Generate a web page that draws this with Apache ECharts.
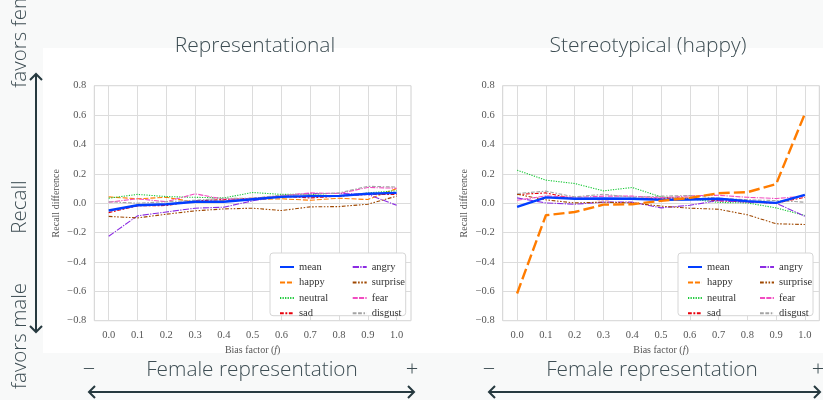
<!DOCTYPE html>
<html><head><meta charset="utf-8">
<script src="https://cdn.jsdelivr.net/npm/echarts@6/dist/echarts.min.js"></script>
<style>html,body{margin:0;padding:0;background:#f8f9f9}#c{width:823px;height:400px}</style>
</head><body><div id="c"></div>
<script>
// ---------- data ----------
const xValues = [0.0, 0.1, 0.2, 0.3, 0.4, 0.5, 0.6, 0.7, 0.8, 0.9, 1.0];
const seriesNames = ['mean', 'happy', 'neutral', 'sad', 'angry', 'surprise', 'fear', 'disgust'];
const panelTitles = ['Representational', 'Stereotypical (happy)'];

// Representational panel
const repMean     = [-0.050, -0.014, -0.007, 0.010, 0.010, 0.027, 0.043, 0.048, 0.050, 0.064, 0.070];
const repHappy    = [0.043, 0.030, 0.040, 0.007, 0.016, 0.025, 0.030, 0.020, 0.034, 0.025, 0.100];
const repNeutral  = [0.034, 0.060, 0.045, 0.040, 0.036, 0.073, 0.060, 0.060, 0.048, 0.070, 0.085];
const repSad      = [-0.064, -0.018, -0.016, 0.016, 0.025, 0.034, 0.048, 0.036, 0.048, 0.060, 0.060];
const repAngry    = [-0.225, -0.086, -0.060, -0.034, -0.027, 0.016, 0.048, 0.066, 0.066, 0.060, -0.014];
const repSurprise = [-0.090, -0.100, -0.075, -0.052, -0.039, -0.034, -0.050, -0.025, -0.023, -0.007, 0.048];
const repFear     = [0.007, 0.030, 0.010, 0.064, 0.027, 0.030, 0.052, 0.070, 0.066, 0.107, 0.102];
const repDisgust  = [0.010, 0.000, 0.010, 0.020, 0.034, 0.034, 0.054, 0.060, 0.070, 0.115, 0.110];

// Stereotypical (happy) panel
const sterMean     = [-0.025, 0.040, 0.030, 0.032, 0.030, 0.023, 0.025, 0.030, 0.014, 0.002, 0.057];
const sterHappy    = [-0.615, -0.082, -0.060, -0.010, -0.007, 0.016, 0.036, 0.068, 0.075, 0.130, 0.610];
const sterNeutral  = [0.225, 0.157, 0.134, 0.084, 0.107, 0.043, 0.030, 0.005, 0.002, -0.032, -0.084];
const sterSad      = [0.059, 0.070, 0.030, 0.023, 0.032, 0.034, 0.036, 0.016, 0.010, 0.000, 0.040];
const sterAngry    = [0.036, 0.002, -0.007, 0.007, 0.007, -0.032, -0.014, 0.018, 0.007, 0.000, -0.089];
const sterSurprise = [0.061, 0.023, 0.002, 0.007, 0.002, -0.020, -0.034, -0.041, -0.079, -0.140, -0.145];
const sterFear     = [0.020, 0.050, 0.040, 0.048, 0.048, 0.036, 0.050, 0.054, 0.040, 0.032, 0.048];
const sterDisgust  = [0.066, 0.082, 0.043, 0.061, 0.040, 0.048, 0.052, 0.034, 0.023, 0.018, 0.007];

const yMin = -0.8, yMax = 0.8, yStep = 0.2;
const xMin = 0.0, xMax = 1.0, xStep = 0.1;

// ---------- styles ----------
const colors = {
  mean: '#023eff', happy: '#ff7c00', neutral: '#1ac938', sad: '#e8000b',
  angry: '#8b2be2', surprise: '#9f4800', fear: '#f14cc1', disgust: '#a3a3a3'
};
const dashUnits = {
  mean: null, happy: [4, 1.5], neutral: [1, 1], sad: [3, 1.25, 1.5, 1.25],
  angry: [5, 1, 1, 1], surprise: [3, 1.25, 1.25, 1.25, 1.25, 1.25],
  fear: [4, 1, 4, 1, 1, 1], disgust: [3, 1.25, 3, 1.25, 1.25, 1.25]
};
const thick = [['mean'], ['mean', 'happy']];
const panelData = [
  [repMean, repHappy, repNeutral, repSad, repAngry, repSurprise, repFear, repDisgust],
  [sterMean, sterHappy, sterNeutral, sterSad, sterAngry, sterSurprise, sterFear, sterDisgust]
];

const TXT = '#3d4d53';
const SERIF = '"Liberation Serif", "DejaVu Serif", serif';
const SANS = '"Open Sans", "Noto Sans", sans-serif';
const GRIDC = '#dcdcdc';

const panels = [
  { boxLeft: 94.3, boxW: 316.7 },
  { boxLeft: 502.7, boxW: 316.6 }
];
const gTop = 85.7, gHeight = 235;

const grid = [], xAxis = [], yAxis = [], series = [], legend = [], graphic = [];
const fmt = v => v.toFixed(1).replace('-', '\u2212');

panels.forEach((p, k) => {
  const unit = p.boxW / 1.1;
  const dataLeft = p.boxLeft + unit * 0.05;
  const dataW = unit;
  grid.push({ left: p.boxLeft, top: gTop, width: p.boxW, height: gHeight, show: true,
    backgroundColor: '#fff', borderColor: '#d0d0d0', borderWidth: 1 });
  grid.push({ left: dataLeft, top: gTop, width: dataW, height: gHeight, show: false });
  const gb = 2 * k, gd = 2 * k + 1;
  xAxis.push({ gridIndex: gb, type: 'value', min: xMin - 0.05, max: xMax + 0.05, show: false });
  yAxis.push({ gridIndex: gb, type: 'value', min: yMin, max: yMax, interval: yStep,
    axisLine: { show: false }, axisTick: { show: false },
    axisLabel: { formatter: fmt, color: '#555', fontFamily: SERIF, fontSize: 10.5, margin: 8 },
    splitLine: { lineStyle: { color: GRIDC, width: 1 } },
    name: 'Recall difference', nameLocation: 'middle', nameGap: 33,
    nameTextStyle: { fontFamily: SERIF, fontSize: 10, color: '#555' } });
  xAxis.push({ gridIndex: gd, type: 'value', min: xMin, max: xMax, interval: xStep,
    axisLine: { show: false }, axisTick: { show: false },
    axisLabel: { formatter: v => v.toFixed(1), color: '#555', fontFamily: SERIF, fontSize: 10.5, margin: 9 },
    splitLine: { lineStyle: { color: GRIDC, width: 1 } },
    name: 'Bias factor ({i|f})', nameLocation: 'middle', nameGap: 20,
    nameTextStyle: { fontFamily: SERIF, fontSize: 10, color: '#555',
      rich: { i: { fontFamily: SERIF, fontSize: 10, fontStyle: 'italic', color: '#555' } } } });
  yAxis.push({ gridIndex: gd, type: 'value', min: yMin, max: yMax, show: false });

  seriesNames.forEach((name, i) => {
    const isThick = thick[k].includes(name);
    const lw = isThick ? 2.4 : 1.1;
    const du = dashUnits[name];
    series.push({
      name: name, type: 'line', xAxisIndex: k * 2 + 1, yAxisIndex: k * 2 + 1,
      data: xValues.map((x, j) => [x, panelData[k][i][j]]),
      showSymbol: false, symbol: 'none', silent: true, animation: false,
      z: isThick ? 5 : 2,
      lineStyle: { color: colors[name], width: lw,
        type: du ? du.map(d => d * lw * 1.15) : 'solid' },
      itemStyle: { color: colors[name] }
    });
  });

  const lb = k === 0 ? { x: 270, w: 135.7 } : { x: 678, w: 135 };
  graphic.push({ type: 'rect', shape: { x: lb.x, y: 253, width: lb.w, height: 62.7, r: 3 },
    style: { fill: '#fff', stroke: '#d6d6d6', lineWidth: 1 }, z: 50 });
  const cols = k === 0 ? [274, 346.7] : [682, 754];
  [seriesNames.slice(0, 4), seriesNames.slice(4)].forEach((names, c) => {
    legend.push({ data: names, orient: 'vertical', left: cols[c], top: 256.5,
      itemWidth: 14, itemHeight: 10, itemGap: 4.45, selectedMode: false, z: 60,
      itemStyle: { opacity: 0 },
      textStyle: { fontFamily: SERIF, fontSize: 10.5, color: '#333', lineHeight: 10 } });
  });
});

graphic.push({ type: 'rect', shape: { x: 43, y: 48, width: 780, height: 305 },
  style: { fill: '#ffffff' }, z: -10, silent: true });
const titleCenters = [255, 648];
panelTitles.forEach((t, k) => {
  graphic.push({ type: 'text', x: titleCenters[k], y: 46, z: 10,
    style: { text: t, fill: TXT, font: '300 21px ' + SANS, align: 'center', verticalAlign: 'middle' } });
});
const sideTexts = [['favors female', 26], ['Recall', 207], ['favors male', 336]];
sideTexts.forEach(([t, y]) => {
  graphic.push({ type: 'text', x: 20, y: y, rotation: Math.PI / 2, z: 10,
    style: { text: t, fill: TXT, font: '300 20.5px ' + SANS, align: 'center', verticalAlign: 'middle' } });
});
const ARC = '#26393f';
graphic.push({ type: 'line', shape: { x1: 36, y1: 74, x2: 36, y2: 332 }, style: { stroke: ARC, lineWidth: 2 }, z: 10 });
graphic.push({ type: 'polyline', shape: { points: [[30, 80], [36, 74], [42, 80]] }, style: { stroke: ARC, lineWidth: 2, fill: null }, z: 10 });
graphic.push({ type: 'polyline', shape: { points: [[30, 326], [36, 332], [42, 326]] }, style: { stroke: ARC, lineWidth: 2, fill: null }, z: 10 });
const bottoms = [{ a: 89, b: 414, c: 252 }, { a: 489, b: 820, c: 652 }];
bottoms.forEach(o => {
  graphic.push({ type: 'text', x: o.c, y: 370, z: 10,
    style: { text: 'Female representation', fill: TXT, font: '300 20.8px ' + SANS, align: 'center', verticalAlign: 'middle' } });
  graphic.push({ type: 'text', x: o.a, y: 370, z: 10,
    style: { text: '\u2212', fill: TXT, font: '300 22px ' + SANS, align: 'center', verticalAlign: 'middle' } });
  graphic.push({ type: 'text', x: o.b - 2, y: 370, z: 10,
    style: { text: '+', fill: TXT, font: '300 22px ' + SANS, align: 'center', verticalAlign: 'middle' } });
  graphic.push({ type: 'line', shape: { x1: o.a, y1: 392, x2: o.b, y2: 392 }, style: { stroke: ARC, lineWidth: 2 }, z: 10 });
  graphic.push({ type: 'polyline', shape: { points: [[o.a + 6, 386], [o.a, 392], [o.a + 6, 398]] }, style: { stroke: ARC, lineWidth: 2, fill: null }, z: 10 });
  graphic.push({ type: 'polyline', shape: { points: [[o.b - 6, 386], [o.b, 392], [o.b - 6, 398]] }, style: { stroke: ARC, lineWidth: 2, fill: null }, z: 10 });
});

const chart = echarts.init(document.getElementById('c'), null, { renderer: 'canvas' });
chart.setOption({
  backgroundColor: '#f8f9f9',
  animation: false,
  grid, xAxis, yAxis, series, legend, graphic
});
</script>
</body></html>
